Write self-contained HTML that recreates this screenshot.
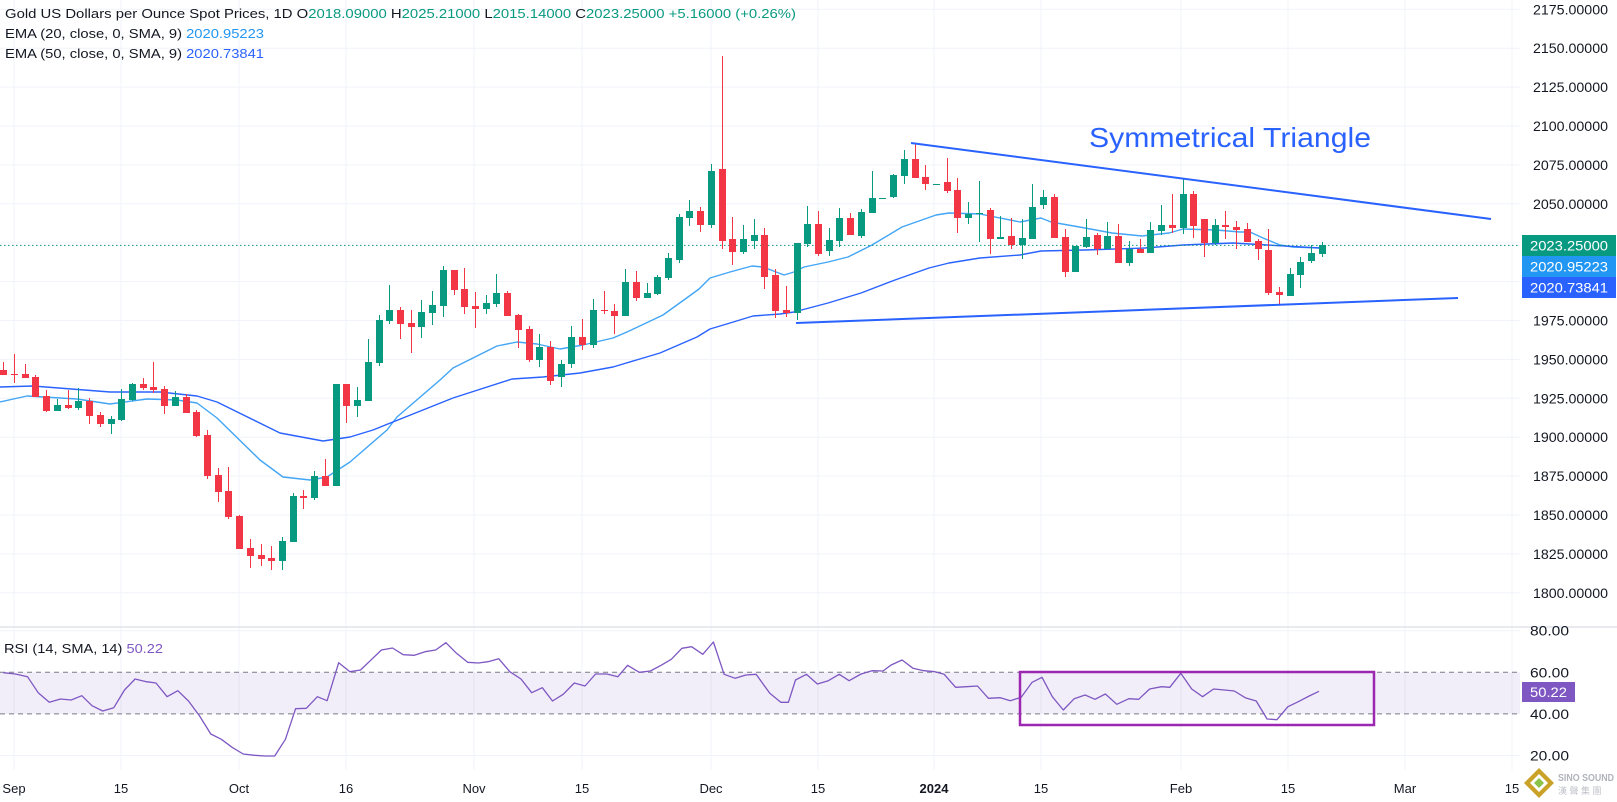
<!DOCTYPE html>
<html><head><meta charset="utf-8">
<style>
html,body{margin:0;padding:0;background:#fff;width:1617px;height:802px;overflow:hidden}
svg{display:block;font-family:"Liberation Sans",Arial,sans-serif}
</style></head>
<body>
<svg id="s" width="1617" height="802" xmlns="http://www.w3.org/2000/svg">
<rect width="1617" height="802" fill="#fff"/>
<g id="grid"></g>
<g id="main"></g>
<text x="1089" y="147" font-size="28" fill="#2962ff" textLength="282" lengthAdjust="spacingAndGlyphs">Symmetrical Triangle</text>
<text x="5" y="18" font-size="13" fill="#131722" textLength="791" lengthAdjust="spacingAndGlyphs">Gold US Dollars per Ounce Spot Prices, 1D  O<tspan fill="#089981">2018.09000</tspan>  H<tspan fill="#089981">2025.21000</tspan>  L<tspan fill="#089981">2015.14000</tspan>  C<tspan fill="#089981">2023.25000  +5.16000 (+0.26%)</tspan></text>
<text x="5" y="38" font-size="13" fill="#131722" textLength="259" lengthAdjust="spacingAndGlyphs">EMA (20, close, 0, SMA, 9)  <tspan fill="#2196f3">2020.95223</tspan></text>
<text x="5" y="58" font-size="13" fill="#131722" textLength="259" lengthAdjust="spacingAndGlyphs">EMA (50, close, 0, SMA, 9)  <tspan fill="#2962ff">2020.73841</tspan></text>
<text x="4" y="653" font-size="13" fill="#131722" textLength="159" lengthAdjust="spacingAndGlyphs">RSI (14, SMA, 14)  <tspan fill="#7e57c2">50.22</tspan></text>
<g id="logo" transform="translate(1524,768)">
<polygon points="15,0 30,15 15,30 0,15" fill="#c9a227"/>
<polygon points="15,6 24,15 15,24 6,15" fill="#fff"/>
<polygon points="15,10 20,15 15,20 10,15" fill="#8bc34a"/>
<text x="34" y="13" font-size="10" font-weight="bold" fill="#b0b3bb" textLength="56" lengthAdjust="spacingAndGlyphs">SINO SOUND</text>
<text x="34" y="26" font-size="9" fill="#c0c3ca">漢 聲 集 團</text>
</g>
</svg>
<script>
var NS="http://www.w3.org/2000/svg";
function el(p,t,a,txt){var e=document.createElementNS(NS,t);for(var k in a)e.setAttribute(k,a[k]);if(txt!==undefined)e.textContent=txt;p.appendChild(e);return e;}
var G=document.getElementById('grid'),M=document.getElementById('main');
function py(p){return 242.7+(2025-p)*1.556;}
function ry(r){return 630.7+(80-r)*2.08;}
var xl=[[14,"Sep"],[121,"15"],[239,"Oct"],[346,"16"],[474,"Nov"],[582,"15"],[711,"Dec"],[818,"15"],[934,"2024"],[1041,"15"],[1181,"Feb"],[1288,"15"],[1405,"Mar"],[1512,"15"]];
xl.forEach(function(d){el(G,'line',{x1:d[0],x2:d[0],y1:0,y2:770,stroke:'#f0f3fa','stroke-width':1});
 el(G,'text',{x:d[0],y:793,'font-size':13,fill:'#131722','text-anchor':'middle','font-weight':d[1]=="2024"?'bold':'normal'},d[1]);});
for(var p=2175;p>=1800;p-=25){var y=py(p);el(G,'line',{x1:0,x2:1520,y1:y,y2:y,stroke:'#f0f3fa'});
 if(p!=2025&&p!=2000)el(G,'text',{x:1533,y:y+5,'font-size':13.5,fill:'#131722',textLength:75,lengthAdjust:'spacingAndGlyphs'},p.toFixed(5));}
el(G,'line',{x1:0,x2:1617,y1:627,y2:627,stroke:'#e0e3eb','stroke-width':1.5});
[80,20].forEach(function(r){el(G,'line',{x1:0,x2:1520,y1:ry(r),y2:ry(r),stroke:'#f0f3fa'});});
el(G,'rect',{x:0,y:ry(60),width:1520,height:ry(40)-ry(60),fill:'#7e57c2','fill-opacity':0.1});
[60,40].forEach(function(r){el(G,'line',{x1:0,x2:1520,y1:ry(r),y2:ry(r),stroke:'#787b86','stroke-dasharray':'5,4'});});
[80,60,40,20].forEach(function(r){el(G,'text',{x:1530,y:ry(r)+5,'font-size':13.5,fill:'#131722',textLength:39,lengthAdjust:'spacingAndGlyphs'},r.toFixed(2));});
var C=[[0,370,375,362,375],[0,374,375,354,383],[0,374,378,364,378],[0,377,397,375,397],[0,396,411,390,412],[1,405,411,399,411],[0,405,408,390,409],[1,401,408,388,410],[0,401,416,398,424],[0,415,424,412,427],[1,419,424,416,434],[1,399,420,389,421],[1,384,400,383,401],[0,384,388,378,390],[0,387,390,362,393],[0,389,406,386,414],[1,397,406,391,406],[0,397,413,394,413],[0,412,436,410,437],[0,435,476,430,479],[0,475,492,468,502],[0,491,517,467,519],[0,516,549,515,549],[0,548,556,539,568],[0,555,559,544,566],[0,558,561,546,570],[1,541,561,537,570],[1,496,542,493,542],[0,496,498,490,509],[1,476,498,471,500],[0,476,486,459,486],[1,384,486,384,486],[0,384,406,384,423],[1,400,406,387,417],[1,362,401,339,401],[1,320,363,315,366],[1,310,321,285,324],[0,310,324,307,339],[0,323,327,310,353],[1,312,327,300,338],[1,305,313,291,325],[1,270,306,266,317],[0,270,290,270,295],[0,289,307,268,314],[0,306,309,292,328],[1,303,309,295,314],[1,293,304,274,307],[0,293,316,291,316],[0,315,330,314,348],[0,329,360,326,362],[1,347,360,334,367],[0,347,381,341,385],[1,364,377,360,387],[1,337,364,326,368],[0,337,345,319,350],[1,310,345,299,348],[0,310,311,291,314],[0,311,316,304,334],[1,282,316,269,316],[0,282,298,271,301],[1,293,298,283,298],[1,277,294,275,295],[1,258,278,253,280],[1,217,260,214,263],[1,211,218,200,226],[0,211,225,207,232],[1,171,225,164,228],[0,169,241,56,249],[0,239,252,217,265],[1,239,252,225,254],[1,235,241,219,249],[0,235,277,228,289],[0,275,311,269,318],[0,310,313,286,317],[1,243,313,243,320],[1,224,244,206,247],[0,224,254,211,256],[1,240,251,228,256],[1,218,241,208,247],[0,218,235,213,235],[1,212,236,209,238],[1,198,213,171,213],[1,198,199,198,199],[1,175,197,174,198],[1,159,176,150,184],[0,159,178,143,178],[0,177,184,165,190],[1,184,185,184,185],[0,182,191,158,193],[0,190,218,178,233],[1,214,218,202,224],[1,213,214,181,242],[0,210,239,208,254],[1,237,239,216,239],[0,236,245,218,249],[1,238,245,219,259],[1,207,239,184,239],[1,197,205,190,209],[0,197,238,194,238],[0,237,272,229,277],[1,246,272,246,272],[1,237,247,219,248],[0,235,249,233,255],[1,236,249,222,249],[0,236,263,224,263],[1,249,263,241,266],[0,249,253,239,253],[1,230,253,222,253],[1,225,231,205,235],[0,225,228,194,233],[1,194,228,178,234],[0,194,226,191,238],[0,219,243,219,257],[1,225,243,219,245],[0,225,227,211,239],[0,227,230,221,249],[0,229,242,223,242],[0,241,249,239,260],[0,250,293,229,295],[0,292,295,287,304],[1,274,296,268,296],[1,262,275,257,288],[1,253,261,245,263],[1,245,254,242,257]];
var E20=[[0,402],[27,396],[77,399],[110,404],[147,399],[177,400],[197,403],[217,418],[260,460],[283,477],[310,480],[327,477],[350,462],[387,430],[397,417],[440,380],[453,368],[497,346],[517,342],[537,344],[560,349],[583,345],[613,338],[627,332],[663,315],[688,297],[699,289],[710,278],[730,272],[752,266],[763,267],[784,275],[794,272],[804,267],[828,262],[848,257],[872,245],[902,227],[936,215],[949,213],[980,214],[1020,222],[1041,218],[1051,222],[1085,228],[1112,233],[1142,236],[1169,233],[1183,229],[1216,230],[1240,232],[1250,232],[1263,238],[1280,245],[1293,247],[1320,248]];
var E50=[[0,387],[33,386],[110,392],[160,392],[197,396],[217,402],[280,433],[323,441],[350,437],[373,430],[453,398],[512,379],[543,377],[580,373],[613,367],[660,353],[697,337],[710,329],[730,323],[753,316],[780,314],[794,312],[828,303],[861,293],[895,280],[929,268],[949,263],[980,258],[1020,255],[1041,251],[1085,250],[1145,248],[1183,245],[1233,243],[1267,245],[1320,248]];
function pl(a,c,w){el(M,'polyline',{points:a.map(function(q){return q.join(',')}).join(' '),fill:'none',stroke:c,'stroke-width':w,'stroke-linejoin':'round'});}
pl(E20,'#42a5f5',1.4);pl(E50,'#2962ff',1.4);
el(M,'line',{x1:0,x2:1520,y1:245.4,y2:245.4,stroke:'#089981','stroke-dasharray':'1.5,2.5','stroke-width':1});
C.forEach(function(d,i){var x=Math.round(3.3+10.72*i)+0.5;var col=d[0]?'#089981':'#f23645';
 el(M,'line',{x1:x,x2:x,y1:d[3],y2:d[4],stroke:col,'stroke-width':1});
 el(M,'rect',{x:x-3.5,y:d[1],width:7,height:Math.max(1,d[2]-d[1]),fill:col});});
el(M,'line',{x1:911,y1:143,x2:1491,y2:219,stroke:'#2962ff','stroke-width':2});
el(M,'line',{x1:796,y1:323,x2:1458,y2:298,stroke:'#2962ff','stroke-width':2});
var R1=[[0,188],[25,192],[50,200],[72,248],[95,277],[118,267],[140,270],[162,257],[183,287],[205,303],[228,293],[250,240],[272,207],[295,215],[315,219],[338,260],[360,242],[382,273],[405,318],[428,372],[450,388],[472,412],[495,432],[518,436],[540,438],[560,438],[582,388],[603,296],[625,295],[648,260],[668,272],[692,158],[715,185],[737,180],[758,151],[780,120],[803,114],[825,134],[848,136],[870,125],[892,120],[913,98],[935,130],[958,157],[980,159],[1000,155],[1022,146],[1045,185],[1068,207],[1090,248],[1112,233],[1133,273],[1155,253],[1178,219],[1200,228],[1222,192],[1245,192],[1268,200],[1288,166],[1312,187],[1335,183],[1357,166],[1378,148],[1400,115],[1420,110],[1443,133],[1465,96],[1487,193],[1510,205],[1532,195],[1553,193]].map(function(q){return [+(3.3+q[0]/2.063).toFixed(1),+(610+q[1]/3).toFixed(1)];});
var R2=[[18,250],[38,277],[52,277],[65,210],[85,193],[105,222],[125,212],[145,193],[163,212],[185,192],[205,182],[225,183],[240,165],[260,150],[280,175],[300,182],[320,185],[337,193],[358,232],[378,230],[398,228],[418,265],[440,263],[458,272],[478,262],[498,217],[516,202],[535,260],[555,300],[575,266],[595,255],[613,268],[632,252],[653,283],[675,266],[693,268],[713,237],[735,230],[750,232],[770,190],[790,237],[810,260],[830,237],[850,240],[868,243],[888,263],[908,273],[928,327],[946,329],[966,290],[985,275],[1005,258],[1023,244]].map(function(q){return [+(760+q[0]/1.83).toFixed(1),+(610+q[1]/3).toFixed(1)];});
pl(R1.concat(R2),'#7e57c2',1.3);
el(M,'rect',{x:1020,y:672,width:354,height:53,fill:'none',stroke:'#9c27b0','stroke-width':2.5});
function box(y,h,c,t,w){el(M,'rect',{x:1522,y:y,width:w,height:h,fill:c});el(M,'text',{x:1530,y:y+h/2+5,'font-size':14,fill:'#fff',textLength:w==94?78:37,lengthAdjust:'spacingAndGlyphs'},t);}
box(235,21,'#089981','2023.25000',94);box(256,21,'#2196f3','2020.95223',94);box(277,21,'#2962ff','2020.73841',94);
box(682,20,'#7e57c2','50.22',53);
</script>
</body></html>
